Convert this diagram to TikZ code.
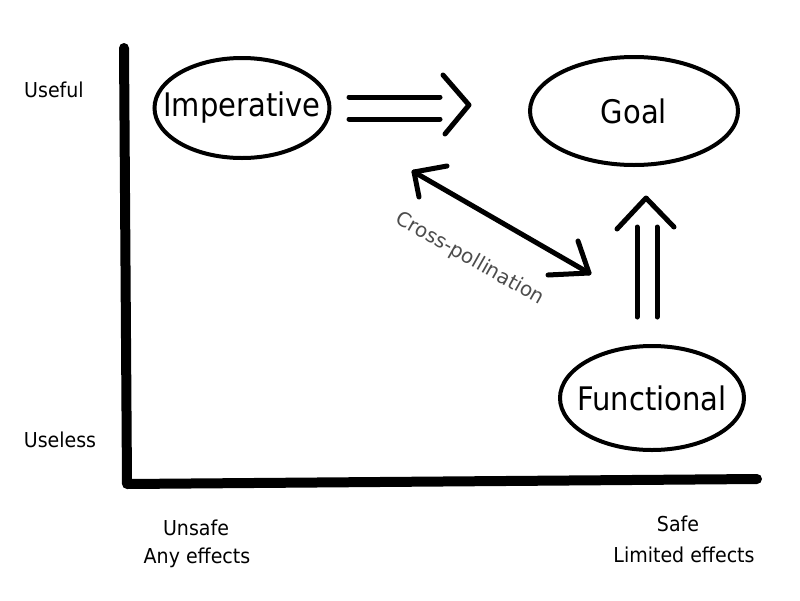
\documentclass[tikz,border=0pt]{standalone}
\usepackage{fontspec}
\setmainfont{DejaVu Sans}
\usetikzlibrary{shapes.geometric}
\begin{document}
\begin{tikzpicture}[x=1pt,y=-1pt,
  oval/.style={ellipse,draw,line width=4pt,inner sep=0pt},
  ovaltext/.style={font=\fontsize{29}{34}\selectfont,inner sep=0pt,yscale=1.12},
  axis/.style={line width=10pt,line cap=round,line join=round},
  stroke/.style={line width=5pt,line cap=round,line join=round},
  lbl/.style={font=\fontsize{19}{23}\selectfont,inner sep=0pt,yscale=1.08}]
\useasboundingbox (0,0) rectangle (800,600);
% axes
\coordinate (top) at (124,48);
\coordinate (corner) at (127,484);
\coordinate (right) at (757,479);
\draw[axis] (top) -- (corner) -- (right);
% ellipses
\node[oval,minimum width=175pt,minimum height=100pt] (imp) at (242,108) {};
\node[ovaltext] (impt) at (imp.center) {Imperative};
\node[oval,minimum width=208pt,minimum height=108pt] (goal) at (634,111) {};
\node[ovaltext] (goalt) at (goal.center) {Goal};
\node[oval,minimum width=184pt,minimum height=104pt] (fun) at (652,398) {};
\node[ovaltext] (funt) at (fun.center) {Functional};
% double arrow right
\coordinate (a1s) at (349,97);  \coordinate (a1e) at (440,97);
\coordinate (a2s) at (349,119); \coordinate (a2e) at (440,119);
\coordinate (ah1) at (443,75); \coordinate (ahT) at (469,105); \coordinate (ah2) at (445,134);
\draw[stroke] (a1s) -- (a1e);
\draw[stroke] (a2s) -- (a2e);
\draw[stroke] (ah1) -- (ahT) -- (ah2);
% double arrow up
\coordinate (b1s) at (637,317); \coordinate (b1e) at (637,227);
\coordinate (b2s) at (657,317); \coordinate (b2e) at (657,227);
\coordinate (bh1) at (617,229); \coordinate (bhT) at (646,198); \coordinate (bh2) at (674,227);
\draw[stroke] (b1s) -- (b1e);
\draw[stroke] (b2s) -- (b2e);
\draw[stroke] (bh1) -- (bhT) -- (bh2);
% cross-pollination
\coordinate (c1) at (414,172);
\coordinate (c2) at (589,273);
\coordinate (c1a) at (447,166); \coordinate (c1b) at (419,197);
\coordinate (c2a) at (548,275); \coordinate (c2b) at (578,241);
\draw[stroke] (c1) -- (c2);
\draw[stroke] (c1a) -- (c1) -- (c1b);
\draw[stroke] (c2a) -- (c2) -- (c2b);
\node[font=\fontsize{20}{24}\selectfont,inner sep=0pt,text=black!70,rotate=-29.5] (cp) at (470,259) {Cross-pollination};
% labels
\node[lbl] (useful) at (54,90) {Useful};
\node[lbl] (useless) at (60,440) {Useless};
\node[lbl] (unsafe) at (196,528) {Unsafe};
\node[lbl] (any) at (197,558) {Any effects};
\node[lbl] (safe) at (678,524) {Safe};
\node[lbl] (lim) at (684,555) {Limited effects};
\end{tikzpicture}
\end{document}
